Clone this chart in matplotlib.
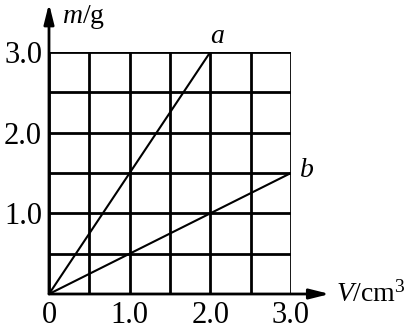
import matplotlib.pyplot as plt
import numpy as np

plt.rcParams['font.family'] = ['Liberation Serif', 'DejaVu Serif']
plt.rcParams['mathtext.fontset'] = 'custom'
plt.rcParams['mathtext.rm'] = 'Liberation Serif'
plt.rcParams['mathtext.it'] = 'Liberation Serif:italic'

# data: mass vs volume for two substances
vol_a = [0.0, 2.0]
mass_a = [0.0, 3.0]
vol_b = [0.0, 3.0]
mass_b = [0.0, 1.5]

grid_ticks = np.arange(0, 3.01, 0.5)
x_labels = ['0', '', '1.0', '', '2.0', '', '3.0']
y_labels = ['', '', '1.0', '', '2.0', '', '3.0']

fig = plt.figure(figsize=(4.06, 3.32), dpi=100)
ax = fig.add_axes([49 / 406, 1 - 294 / 332, 242 / 406, 242 / 332])
ax.set_xlim(0, 3)
ax.set_ylim(0, 3)

for s in ax.spines.values():
    s.set_visible(False)

ax.set_xticks(grid_ticks)
ax.set_yticks(grid_ticks)
ax.set_xticklabels(x_labels)
ax.set_yticklabels(y_labels)
ax.tick_params(length=0, labelsize=22)
ax.tick_params(axis='x', pad=5)
ax.tick_params(axis='y', pad=5)
ax.grid(True, color='black', linewidth=2.0)
ax.set_axisbelow(True)

ax.plot(vol_a, mass_a, color='black', linewidth=1.5, solid_capstyle='butt')
ax.plot(vol_b, mass_b, color='black', linewidth=1.5, solid_capstyle='butt')

# axes with arrows
ax.annotate('', xy=(3.48, 0), xytext=(0, 0), annotation_clip=False,
            arrowprops=dict(arrowstyle='-|>,head_length=1.2,head_width=0.3',
                            color='black', lw=2.0, shrinkA=0, shrinkB=0))
ax.annotate('', xy=(0, 3.6), xytext=(0, 0), annotation_clip=False,
            arrowprops=dict(arrowstyle='-|>,head_length=1.2,head_width=0.3',
                            color='black', lw=2.0, shrinkA=0, shrinkB=0))

ax.text(0.16, 3.43, '$m$/g', fontsize=20, ha='left', va='center')
ax.text(3.56, 0.0, '$V$/cm$^3$', fontsize=20, ha='left', va='center')
ax.text(2.09, 3.19, 'a', fontsize=20, style='italic', ha='center', va='center')
ax.text(3.2, 1.53, 'b', fontsize=20, style='italic', ha='center', va='center')

fig.savefig('out.png', dpi=100)
